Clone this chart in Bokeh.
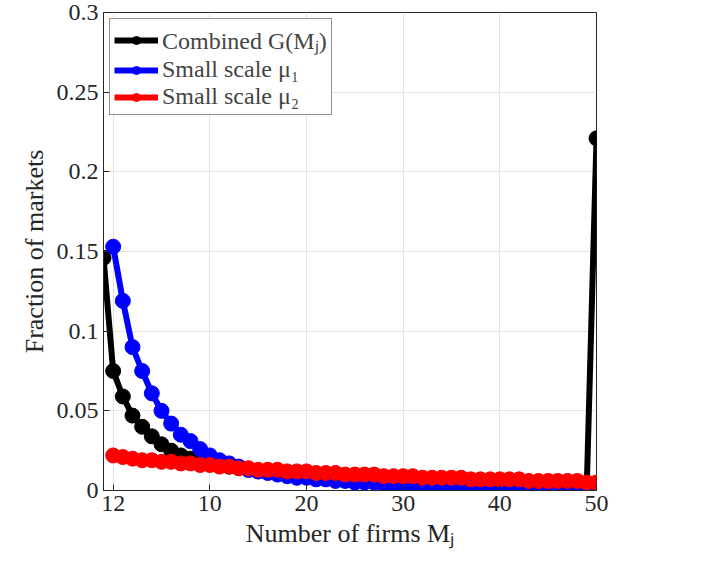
from bokeh.plotting import figure
from bokeh.models import Range1d, FixedTicker, Legend, LegendItem
from bokeh.embed import file_html
from bokeh.resources import INLINE

x_combined = list(range(-1, 51))
combined = [0.146, 0.075, 0.059, 0.047, 0.040, 0.034, 0.029, 0.025, 0.022, 0.020,
            0.018, 0.017, 0.016, 0.015, 0.014, 0.013, 0.012, 0.012, 0.011, 0.011,
            0.010, 0.010, 0.009, 0.009, 0.009, 0.008, 0.008, 0.008, 0.007, 0.007,
            0.007, 0.007, 0.006, 0.006, 0.006, 0.006, 0.006, 0.006, 0.005, 0.005,
            0.005, 0.005, 0.005, 0.005, 0.005, 0.005, 0.004, 0.004, 0.004, 0.004,
            0.004, 0.221]
x_small = list(range(0, 51))
small_mu1 = [0.153, 0.119, 0.090, 0.075, 0.061, 0.050, 0.042, 0.035, 0.031, 0.026,
             0.022, 0.019, 0.017, 0.015, 0.013, 0.012, 0.011, 0.010, 0.009, 0.008,
             0.008, 0.007, 0.007, 0.006, 0.006, 0.005, 0.005, 0.005, 0.004, 0.004,
             0.004, 0.004, 0.003, 0.003, 0.003, 0.003, 0.003, 0.003, 0.003, 0.002,
             0.002, 0.002, 0.002, 0.002, 0.002, 0.002, 0.002, 0.002, 0.002, 0.002,
             0.002]
small_mu2 = [0.022, 0.021, 0.020, 0.019, 0.019, 0.018, 0.018, 0.017, 0.017, 0.016,
             0.016, 0.015, 0.015, 0.014, 0.014, 0.013, 0.013, 0.013, 0.012, 0.012,
             0.012, 0.011, 0.011, 0.011, 0.010, 0.010, 0.010, 0.010, 0.009, 0.009,
             0.009, 0.009, 0.008, 0.008, 0.008, 0.008, 0.008, 0.007, 0.007, 0.007,
             0.007, 0.007, 0.007, 0.006, 0.006, 0.006, 0.006, 0.006, 0.006, 0.005,
             0.005]
x_ticks = [0, 10, 20, 30, 40, 50]
x_tick_labels = {0: "12", 10: "10", 20: "20", 30: "30", 40: "40", 50: "50"}
y_ticks = [0, 0.05, 0.1, 0.15, 0.2, 0.25, 0.3]
y_tick_labels = {0: "0", 0.05: "0.05", 0.1: "0.1", 0.15: "0.15", 0.2: "0.2", 0.25: "0.25", 0.3: "0.3"}

FONT = "Liberation Serif"

p = figure(width=686, height=557, x_range=Range1d(-1, 50), y_range=Range1d(0, 0.3),
           output_backend="svg", toolbar_location=None,
           min_border_left=103, min_border_right=90, min_border_top=12, min_border_bottom=67)
p.outline_line_color = "#262626"
p.outline_line_width = 1

p.xaxis.ticker = FixedTicker(ticks=x_ticks)
p.xaxis.major_label_overrides = x_tick_labels
p.yaxis.ticker = FixedTicker(ticks=y_ticks)
p.yaxis.major_label_overrides = y_tick_labels
for ax in (p.xaxis, p.yaxis):
    ax.major_label_text_font = FONT
    ax.major_label_text_font_size = "24px"
    ax.major_label_text_color = "#262626"
    ax.axis_label_text_font = FONT
    ax.axis_label_text_font_size = "26px"
    ax.axis_label_text_font_style = "normal"
    ax.axis_label_text_color = "#262626"
    ax.axis_line_color = "#262626"
    ax.major_tick_line_color = "#262626"
    ax.major_tick_in = 6
    ax.major_tick_out = 0
    ax.minor_tick_line_color = None
p.xaxis.axis_label = "Number of firms Mⱼ"
p.yaxis.axis_label = "Fraction of markets"
p.grid.grid_line_color = "#e3e3e3"

r1 = p.line(x_combined, combined, line_color="black", line_width=6)
m1 = p.scatter(x_combined, combined, size=15, fill_color="black", line_color="black")
r2 = p.line(x_small, small_mu1, line_color="blue", line_width=6)
m2 = p.scatter(x_small, small_mu1, size=15, fill_color="blue", line_color="blue")
r3 = p.line(x_small, small_mu2, line_color="red", line_width=6)
m3 = p.scatter(x_small, small_mu2, size=15, fill_color="red", line_color="red")

legend = Legend(items=[
    LegendItem(label="Combined G(Mⱼ)", renderers=[r1, m1]),
    LegendItem(label="Small scale μ₁", renderers=[r2, m2]),
    LegendItem(label="Small scale μ₂", renderers=[r3, m3]),
], location="top_left")
legend.label_text_font = FONT
legend.label_text_font_size = "24px"
legend.border_line_color = "#262626"
legend.spacing = 0
legend.padding = 4
legend.margin = 6
legend.glyph_width = 44
legend.label_standoff = 4
p.add_layout(legend)

open("out.html", "w").write(file_html(p, INLINE))
